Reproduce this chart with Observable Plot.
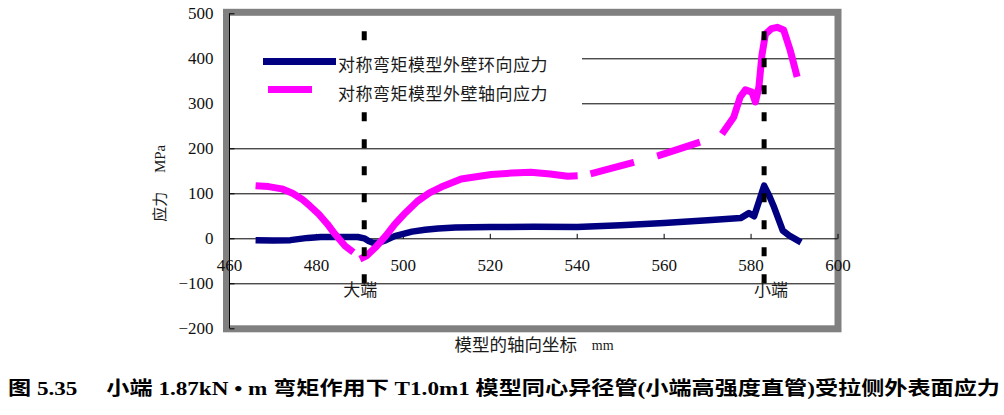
<!DOCTYPE html>
<html><head><meta charset="utf-8">
<script src="https://cdn.jsdelivr.net/npm/d3@7"></script>
<script src="https://cdn.jsdelivr.net/npm/@observablehq/plot@0.6"></script>
<style>
body{margin:0;background:#fff;}
#wrap{position:relative;width:1004px;height:415px;overflow:hidden;background:#fff;}
#legend{position:absolute;left:230px;top:42px;width:352px;height:67px;background:#fff;}
.sw{position:absolute;height:7px;}
.lt{position:absolute;left:108px;font-family:"Noto Sans CJK SC",sans-serif;font-size:17px;letter-spacing:0.5px;color:#1a1a1a;white-space:nowrap;line-height:20px;}
#caption{position:absolute;left:8px;top:377px;white-space:pre;font-family:"Liberation Serif","Times New Roman","Noto Sans CJK SC",serif;font-weight:bold;font-size:19px;line-height:24px;transform-origin:0 50%;display:inline-block;color:#000;}
</style></head>
<body><div id="wrap"></div>
<script>
// ---- data ----
const seriesNames = ["对称弯矩模型外壁环向应力", "对称弯矩模型外壁轴向应力"];
const hoopX = [466, 470, 474, 478, 481, 486, 489.5, 491, 492, 493, 494.5, 496, 498, 500, 502, 505, 508, 512, 520, 530, 540, 550, 560, 570, 577.6, 579.5, 580.7, 583, 584.2, 585.3, 587.3, 588.8, 591.5];
const hoopY = [-3, -4, -3, 2, 4, 4, 4, 1, -5, -9, -8, -3, 6, 11, 16, 20, 23, 25, 26, 27, 26, 30, 35, 41, 46, 57, 50, 118, 95, 70, 18, 7, -8];
const axialX = [466, 469, 472, 474.5, 476.7, 478.5, 480.5, 482.5, 484.3, 486.6, 488.5,
                490, 491.5, 493.5, 496, 498, 500.5, 503.3, 506, 508.7, 513.3, 520.2, 525, 529.3, 533.8, 537.8, 540.1,
                543, 548, 553, 558.7, 563.5, 568.3, 573.3,
                576, 577.5, 578.7, 580.2, 581, 581.8, 582.5, 583.3, 584.7, 586, 587.5, 589, 590.6];
const axialY = [118, 116, 111, 101, 88, 73, 55, 33, 10, -16, -30,
                -45, -38, -20, 7, 32, 58, 84, 102, 115, 133, 143, 146, 148, 144, 139, 140,
                144, 157, 170, 185, 200, 215, 233,
                270, 315, 331, 326, 304, 337, 408, 455, 467, 470, 464, 419, 360];
const xTicks = [460, 480, 500, 520, 540, 560, 580, 600];
const yTicks = [-200, -100, 0, 100, 200, 300, 400, 500];
const gridY = [-100, 100, 200, 300, 400];
const endX = [491, 583];
const endLabels = ["大端", "小端"];
const yTitle = "应力\u3000 MPa";
const xTitle = "模型的轴向坐标";
const xUnit = "mm";
const captionText = "图 5.35\u3000 小端 1.87kN • m 弯矩作用下 T1.0m1 模型同心异径管(小端高强度直管)受拉侧外表面应力";

// ---- build ----
const hoop = hoopX.map((x, i) => ({x, y: hoopY[i]}));
const axial = axialX.map((x, i) => ({x, y: axialY[i]}));
const axialA = axial.filter(d => d.x < 489.5);
const axialB = axial.filter(d => d.x >= 489.5 && d.x <= 540.1);
const axialC = axial.filter(d => d.x >= 540.1 && d.x <= 573.3);
const axialD = axial.filter(d => d.x >= 573.3);

const serif = '"Liberation Serif", "Times New Roman", Times, "Noto Sans CJK SC", serif';
const cjk = '"Noto Sans CJK SC", sans-serif';
const blue = "#000080", magenta = "#FF00FF";
const fmt = d => d < 0 ? "\u2212" + (-d) : String(d);
const mag = {x: "x", y: "y", stroke: magenta, strokeWidth: 7, strokeLinecap: "butt", strokeLinejoin: "round"};

const chart = Plot.plot({
  width: 1004, height: 360,
  marginLeft: 229, marginRight: 166.5, marginTop: 13.3, marginBottom: 31.7,
  x: {domain: [460, 600], axis: null},
  y: {domain: [-200, 500], axis: null},
  style: {background: "white", overflow: "visible"},
  marks: [
    Plot.ruleY(gridY, {y: d => d, x1: 460, x2: 600, stroke: "black", strokeWidth: 1}),
    Plot.frame({stroke: "#808080", strokeWidth: 7, insetLeft: -3, insetTop: -1.5}),
    Plot.ruleX([460], {x: d => d, y1: -200, y2: 500, stroke: "black", strokeWidth: 1}),
    Plot.ruleY([0], {y: d => d, x1: 460, x2: 600, stroke: "black", strokeWidth: 1}),
    Plot.link(xTicks, {x1: d => d, x2: d => d, y1: 0, y2: 11, stroke: "black"}),
    Plot.link(yTicks, {x1: 460, x2: 461.15, y1: d => d, y2: d => d, stroke: "black"}),
    Plot.line(hoop, {x: "x", y: "y", stroke: blue, strokeWidth: 6.5, strokeLinecap: "butt", strokeLinejoin: "round"}),
    Plot.line(axialA, mag),
    Plot.line(axialB, mag),
    Plot.line(axialC, {...mag, strokeDasharray: "45,24", strokeDashoffset: 56}),
    Plot.line(axialD, mag),
    Plot.ruleX(endX, {x: d => d, y1: 460, y2: -100, stroke: "black", strokeWidth: 5, strokeDasharray: "9,18"}),
    Plot.text(yTicks, {x: 460, y: d => d, text: fmt, textAnchor: "end", dx: -16, fontSize: 17, fontFamily: serif, fill: "#111"}),
    Plot.text(xTicks, {x: d => d, y: 0, text: d => String(d), textAnchor: "middle", dy: 27, fontSize: 17, fontFamily: serif, fill: "#111"}),
    Plot.text([endX[0]], {x: d => d, y: -100, text: () => endLabels[0], textAnchor: "middle", dx: -4, dy: 7, fontSize: 17, fontFamily: cjk, fill: "#1a1a1a"}),
    Plot.text([endX[1]], {x: d => d, y: -100, text: () => endLabels[1], textAnchor: "middle", dx: 7, dy: 7, fontSize: 17, fontFamily: cjk, fill: "#1a1a1a"}),
    Plot.text([yTitle], {frameAnchor: "left", textAnchor: "middle", lineAnchor: "middle", rotate: -90, dx: -69, dy: 12, fontSize: 15, fontFamily: serif, fill: "#1a1a1a"}),
    Plot.text([xTitle], {frameAnchor: "bottom", textAnchor: "middle", lineAnchor: "middle", dx: -18, dy: 17, fontSize: 17.5, fontFamily: cjk, fill: "#1a1a1a"}),
    Plot.text([xUnit], {frameAnchor: "bottom", textAnchor: "middle", lineAnchor: "middle", dx: 69, dy: 17, fontSize: 14, fontFamily: serif, fill: "#1a1a1a"})
  ]
});
const wrap = document.getElementById("wrap");
wrap.appendChild(chart);

// legend
const legend = document.createElement("div");
legend.id = "legend";
const items = [
  {name: seriesNames[0], color: blue, left: 33, width: 73, swTop: 15.5, textTop: 12},
  {name: seriesNames[1], color: magenta, left: 38, width: 44, swTop: 44, textTop: 40.5}
];
for (const it of items) {
  const sw = document.createElement("div");
  sw.className = "sw";
  sw.style.left = it.left + "px"; sw.style.width = it.width + "px";
  sw.style.top = it.swTop + "px"; sw.style.background = it.color;
  legend.appendChild(sw);
  const t = document.createElement("div");
  t.className = "lt"; t.style.top = it.textTop + "px"; t.textContent = it.name;
  legend.appendChild(t);
}
wrap.appendChild(legend);

// caption
const cap = document.createElement("div");
cap.id = "caption";
cap.textContent = captionText;
wrap.appendChild(cap);
const w = cap.getBoundingClientRect().width;
cap.style.transform = `scaleX(${992 / w})`;
</script>
</body></html>
